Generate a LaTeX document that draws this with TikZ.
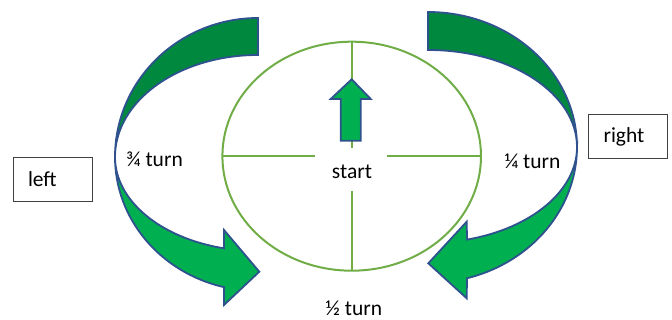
\documentclass[tikz,border=0pt]{standalone}
\usepackage{fontspec}
\setmainfont{Carlito}
\usepackage{xcolor}
\usepackage{tikz}
\definecolor{backgreen}{RGB}{0,137,62}
\definecolor{frontgreen}{RGB}{0,176,80}
\definecolor{rim}{RGB}{47,82,143}
\definecolor{dial}{RGB}{112,173,71}

\begin{document}
\begin{tikzpicture}[x=1pt, y=-1pt, font=\fontsize{21.5}{26}\selectfont,
	box/.style = {draw=black!75, line width=0.9pt, inner xsep=15pt, text width=49pt, minimum height=44pt, align=left},
	back/.style = {fill=backgreen, draw=rim, line width=1.8pt},
	front/.style = {fill=frontgreen, draw=rim, line width=1.8pt},
	cross/.style = {draw=dial, line width=2pt}]
	\useasboundingbox (0,0) rectangle (672,320);
	% dial
	\draw[cross] (351.7,156.2) ellipse [x radius=129.3, y radius=114.5];
	\draw[cross] (351.7,41.7) -- (351.7,148.5);
	\draw[cross] (351.7,191) -- (351.7,270.7);
	\draw[cross] (222.4,156.5) -- (315,156.5);
	\draw[cross] (387,156.5) -- (481,156.5);
	\draw[front] (351.7,79.3) -- (370.7,99) -- (360.7,99) -- (360.7,140.7) -- (340.7,140.7) -- (340.7,99) -- (330.7,99) -- cycle;
	% left arrow
	\draw[back] (258,18) arc[start angle=270, end angle=180, x radius=143, y radius=139]
		arc[start angle=180, end angle=270, x radius=143, y radius=102] -- cycle;
	\draw[front] (115,157) arc[start angle=180, end angle=103.76, x radius=143, y radius=134]
		-- (224,305) -- (259.3,271.7) -- (224,230) -- (224,248.3)
		arc[start angle=103.76, end angle=180, x radius=143, y radius=94] -- cycle;
	% right arrow
	\draw[back] (428,12) arc[start angle=270, end angle=360, x radius=149, y radius=135]
		arc[start angle=0, end angle=-90, x radius=149, y radius=97] -- cycle;
	\draw[front] (577,147) arc[start angle=0, end angle=74.83, x radius=149, y radius=136]
		-- (466.7,298.3) -- (428.3,263.3) -- (466.7,221.7) -- (467,239.6)
		arc[start angle=74.83, end angle=0, x radius=149, y radius=96] -- cycle;
	% labels
	\node (start) at (352,172) {start};
	\node (three) at (154.5,159) {¾ turn};
	\node (one) at (532.5,161) {¼ turn};
	\node[inner sep=1pt] (half) at (354,308.5) {½ turn};
	\node[box] (left) at (52.5,179) {left};
	\node[box] (right) at (628,136.5) {right};
\end{tikzpicture}
\end{document}
